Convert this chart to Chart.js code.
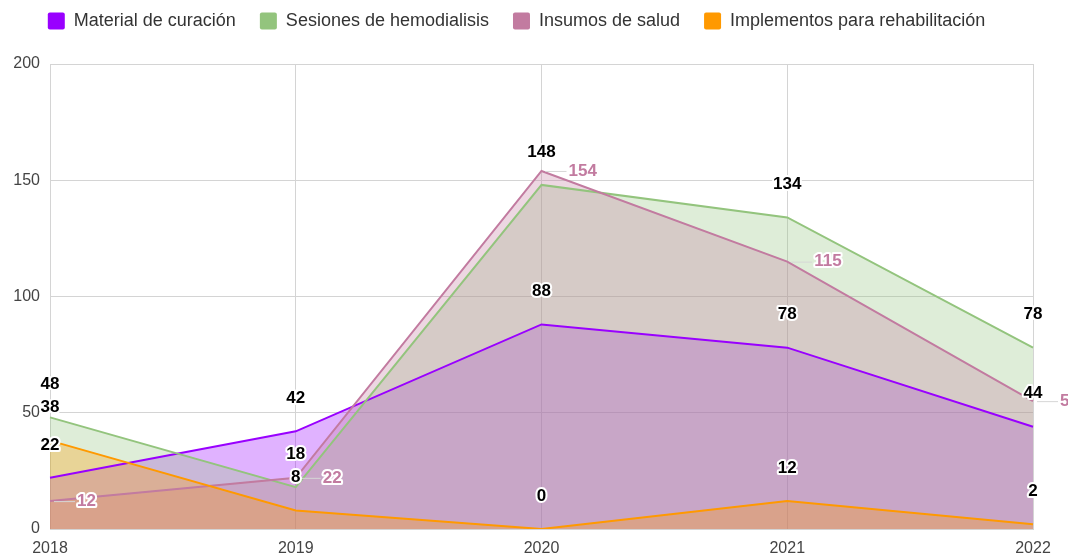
<!DOCTYPE html>
<html>
<head>
<meta charset="utf-8">
<script src="https://cdn.jsdelivr.net/npm/chart.js"></script>
<style>
  html, body { margin: 0; padding: 0; background: #fff; }
  #wrap { width: 1068px; height: 555px; }
</style>
</head>
<body>
<div id="wrap"><canvas id="areaChart" width="1068" height="555"></canvas></div>
<script>
    // values
    const YEARS = ['2018', '2019', '2020', '2021', '2022'];
    const MATERIAL = [22, 42, 88, 78, 44];
    const SESIONES = [48, 18, 148, 134, 78];
    const INSUMOS = [12, 22, 154, 115, 55];
    const IMPLEMENTOS = [38, 8, 0, 12, 2];
    const Y_TICKS = [0, 50, 100, 150, 200];

    const PURPLE = '#9900ff';
    const GREEN = '#93c47d';
    const PINK = '#c27ba0';
    const ORANGE = '#ff9900';
    const FONT = 'Arial, "Liberation Sans", sans-serif';

    function alpha(hex, a) {
        const n = parseInt(hex.slice(1), 16);
        return `rgba(${n >> 16}, ${(n >> 8) & 255}, ${n & 255}, ${a})`;
    }

    function series(label, data, color, order, labelColor, labelSide) {
        return {
            label: label,
            data: data,
            borderColor: color,
            backgroundColor: alpha(color, 0.3),
            solidColor: color,
            borderWidth: 2,
            fill: 'origin',
            tension: 0,
            pointRadius: 0,
            order: order,
            labelColor: labelColor,
            labelSide: labelSide
        };
    }

    // value labels: black ones above the point, pink ones to its right
    const pointLabels = {
        id: 'pointLabels',
        afterDatasetsDraw(chart) {
            const ctx = chart.ctx;
            ctx.save();
            ctx.font = 'bold 17px ' + FONT;
            ctx.lineJoin = 'round';
            ctx.textBaseline = 'middle';
            chart.data.datasets.forEach((ds, i) => {
                const meta = chart.getDatasetMeta(i);
                meta.data.forEach((pt, j) => {
                    const text = String(ds.data[j]);
                    let x = pt.x, y = pt.y - 33;
                    if (ds.labelSide === 'right') {
                        ctx.strokeStyle = '#d6d6d6';
                        ctx.lineWidth = 1;
                        ctx.beginPath();
                        ctx.moveTo(pt.x + 4, pt.y + 0.5);
                        ctx.lineTo(pt.x + 25, pt.y + 0.5);
                        ctx.stroke();
                        ctx.textAlign = 'left';
                        x = pt.x + 27;
                        y = pt.y;
                    } else {
                        ctx.textAlign = 'center';
                    }
                    ctx.strokeStyle = '#fff';
                    ctx.lineWidth = 4;
                    ctx.strokeText(text, x, y);
                    ctx.fillStyle = ds.labelColor;
                    ctx.fillText(text, x, y);
                });
            });
            ctx.restore();
        }
    };

    // room between the legend and the plot
    const legendHeight = {
        id: 'legendHeight',
        beforeInit(chart) {
            const fit = chart.legend.fit;
            chart.legend.fit = function () {
                fit.call(this);
                this.height = 76;
            };
        }
    };

    const config = {
        type: 'line',
        data: {
            labels: YEARS,
            datasets: [
                series('Material de curación', MATERIAL, PURPLE, 4, '#000', 'above'),
                series('Sesiones de hemodialisis', SESIONES, GREEN, 3, '#000', 'above'),
                series('Insumos de salud', INSUMOS, PINK, 2, PINK, 'right'),
                series('Implementos para rehabilitación', IMPLEMENTOS, ORANGE, 1, '#000', 'above')
            ]
        },
        options: {
            responsive: false,
            animation: false,
            devicePixelRatio: 1,
            layout: {
                padding: { top: -12, right: 35, bottom: 0, left: 0 }
            },
            plugins: {
                filler: { drawTime: 'beforeDatasetsDraw' },
                tooltip: { enabled: false },
                legend: {
                    position: 'top',
                    labels: {
                        boxWidth: 17,
                        boxHeight: 17,
                        padding: 24,
                        color: '#333',
                        useBorderRadius: true,
                        borderRadius: 2,
                        font: { family: FONT, size: 18 },
                        sort: (a, b) => a.datasetIndex - b.datasetIndex,
                        generateLabels(chart) {
                            const items = Chart.defaults.plugins.legend.labels.generateLabels(chart);
                            items.forEach(it => {
                                const c = chart.data.datasets[it.datasetIndex].solidColor;
                                it.fillStyle = c;
                                it.strokeStyle = c;
                                it.lineWidth = 0;
                            });
                            return items;
                        }
                    }
                }
            },
            scales: {
                x: {
                    grid: { color: '#d4d4d4', drawTicks: false },
                    border: { color: '#d4d4d4' },
                    ticks: {
                        padding: 10,
                        color: '#444',
                        font: { family: FONT, size: 16 },
                        maxRotation: 0
                    },
                    afterFit(scale) { scale.height = 26; }
                },
                y: {
                    min: Y_TICKS[0],
                    max: Y_TICKS[Y_TICKS.length - 1],
                    afterBuildTicks(scale) {
                        scale.ticks = Y_TICKS.map(v => ({ value: v }));
                    },
                    grid: { color: '#d4d4d4', drawTicks: false },
                    border: { color: '#d4d4d4' },
                    ticks: {
                        padding: 10,
                        color: '#444',
                        font: { family: FONT, size: 16 }
                    },
                    afterFit(scale) { scale.width = 50; }
                }
            }
        },
        plugins: [pointLabels, legendHeight]
    };

    new Chart(document.getElementById('areaChart'), config);
</script>
</body>
</html>
